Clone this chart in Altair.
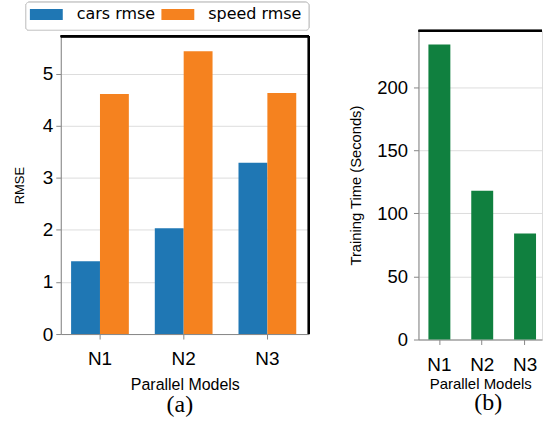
import altair as alt
import pandas as pd

models = ["N1", "N2", "N3"]
metrics = ["cars rmse", "speed rmse"]
cars_rmse = [1.40, 2.03, 3.29]
speed_rmse = [4.61, 5.43, 4.63]
train_time = [234, 118, 84]

colors_a = ["#1f77b4", "#f5821f"]
color_b = "#10803f"
FONT = "DejaVu Sans"

rows = []
for m, c, s in zip(models, cars_rmse, speed_rmse):
    rows.append({"model": m, "metric": metrics[0], "value": c})
    rows.append({"model": m, "metric": metrics[1], "value": s})
df_a = pd.DataFrame(rows)
df_b = pd.DataFrame({"model": models, "time": train_time})

WA, HA = 249, 299
WB, HB = 124, 310

bars_a = alt.Chart(df_a).mark_bar().encode(
    x=alt.X("model:N", sort=models,
            scale=alt.Scale(paddingInner=0.31, paddingOuter=0.137, align=0.45),
            axis=alt.Axis(title="Parallel Models", labelAngle=0, labelFontSize=19,
                          titleFontSize=16, titleFontWeight="normal",
                          labelPadding=11, titlePadding=8)),
    xOffset=alt.XOffset("metric:N", sort=metrics,
                        scale=alt.Scale(paddingInner=0, paddingOuter=0)),
    y=alt.Y("value:Q", scale=alt.Scale(domain=[0, 5.72], nice=False),
            axis=alt.Axis(title="RMSE", values=[0, 1, 2, 3, 4, 5], labelFontSize=19,
                          titleFontSize=13, titleFontWeight="normal",
                          labelPadding=3, titlePadding=16)),
    color=alt.Color("metric:N", sort=metrics,
                    scale=alt.Scale(domain=metrics, range=colors_a),
                    legend=alt.Legend(title=None, orient="none", legendX=-35, legendY=-37,
                                      direction="horizontal",
                                      symbolType="M-1,-0.3333H1V0.3333H-1Z",
                                      symbolSize=1089, symbolStrokeWidth=0,
                                      symbolOffset=0, labelOffset=14,
                                      labelFontSize=16, labelFont=FONT, labelColor="black",
                                      columnPadding=6, padding=4)),
)
legend_box = alt.Chart(df_a).mark_rect(fill="white", stroke="#cccccc", strokeWidth=1,
                                        cornerRadius=3).encode(
    x=alt.value(-35), x2=alt.value(WA), y=alt.value(-34), y2=alt.value(-6))
top_a = alt.Chart(df_a).mark_rule(color="black", strokeWidth=2).encode(
    x=alt.value(0), x2=alt.value(WA), y=alt.value(0))
right_a = alt.Chart(df_a).mark_rule(color="black", strokeWidth=2).encode(
    x=alt.value(WA), y=alt.value(0), y2=alt.value(HA))

panel_a = alt.layer(legend_box, bars_a, top_a, right_a).properties(
    width=WA, height=HA,
    title=alt.TitleParams("(a)", orient="bottom", font="Liberation Serif", fontSize=24,
                          fontWeight="normal", color="black", anchor="middle",
                          dx=-5, offset=0))

bars_b = alt.Chart(df_b).mark_bar(color=color_b).encode(
    x=alt.X("model:N", sort=models,
            scale=alt.Scale(paddingInner=0.488, paddingOuter=0.186, align=0.625),
            axis=alt.Axis(title="Parallel Models", labelAngle=0, labelFontSize=19,
                          titleFontSize=15, titleFontWeight="normal",
                          labelPadding=11, titlePadding=2)),
    y=alt.Y("time:Q", scale=alt.Scale(domain=[0, 245], nice=False),
            axis=alt.Axis(title="Training Time (Seconds)", values=[0, 50, 100, 150, 200],
                          labelFontSize=18.5, titleFontSize=14.8, titleFontWeight="normal",
                          labelPadding=6, titlePadding=13)),
)
top_b = alt.Chart(df_b).mark_rule(color="black", strokeWidth=2).encode(
    x=alt.value(0), x2=alt.value(WB), y=alt.value(0))

panel_b = alt.layer(bars_b, top_b).properties(
    width=WB, height=HB,
    title=alt.TitleParams("(b)", orient="bottom", font="Liberation Serif", fontSize=24,
                          fontWeight="normal", color="black", anchor="middle",
                          dx=8, offset=0))

chart = alt.hconcat(panel_a, panel_b, spacing=110, bounds="flush", center=True).properties(
    padding={"left": 12, "top": -7, "right": 0, "bottom": 0}
).configure_view(stroke=None).configure_axis(
    labelFont=FONT, titleFont=FONT, labelColor="black", titleColor="black",
    titleFontWeight="normal", domainColor="black", domainWidth=2, tickColor="black",
    tickWidth=2, tickSize=7, grid=False
).configure(background="white")

chart.save("out.html", embed_options={"renderer": "svg", "actions": False})
